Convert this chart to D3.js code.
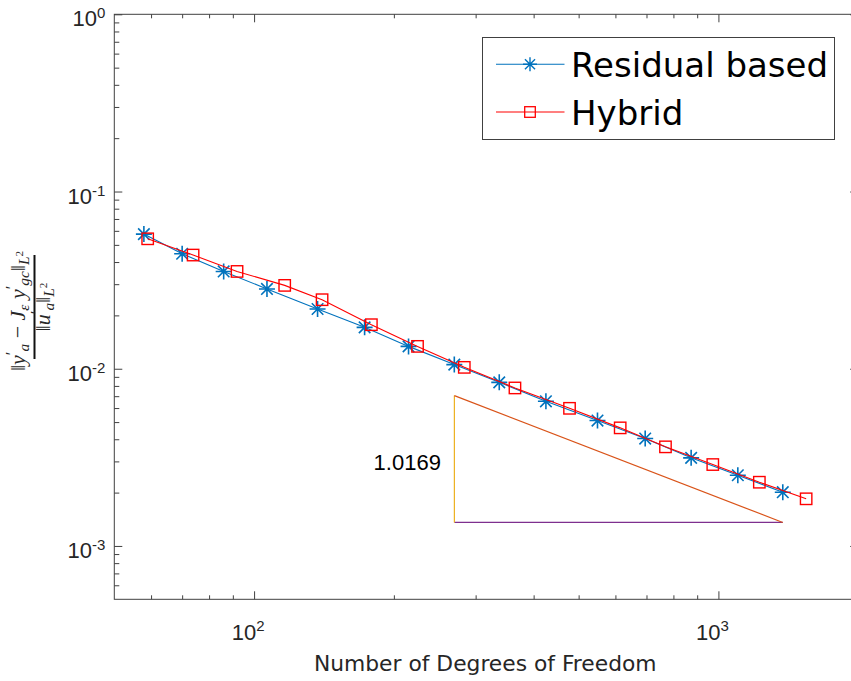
<!DOCTYPE html>
<html><head><meta charset="utf-8">
<script src="https://cdn.jsdelivr.net/npm/d3@7"></script>
<style>body{margin:0;background:#fff;overflow:hidden}</style>
</head><body><svg id="c" width="851" height="681"></svg>
<script>
// ---- data ----
const dofResidual = [57.9, 70.0, 86.0, 106.6, 137.0, 173.0, 215.1, 269.9, 337.3, 425.1, 549.0, 695.5, 873.5, 1101, 1376];
const errResidual = [0.0575, 0.04455, 0.0354, 0.0282, 0.02173, 0.01712, 0.01337, 0.01055, 0.00838, 0.00655, 0.0051, 0.004036, 0.003142, 0.002506, 0.002011];
const dofHybrid = [59.0, 73.9, 91.9, 116.4, 140.1, 178.9, 224.9, 283.6, 364.6, 477.9, 614.4, 769.1, 972.5, 1225, 1545];
const errHybrid = [0.0541, 0.0438, 0.0354, 0.02953, 0.02452, 0.01772, 0.01337, 0.01018, 0.00779, 0.005979, 0.004638, 0.003624, 0.00288, 0.002289, 0.001845];
const seriesNames = ["Residual based", "Hybrid"];
const xTickValues = [100, 1000];
const xTickExps = ["2", "3"];
const yTickValues = [1, 0.1, 0.01, 0.001];
const yTickExps = ["0", "-1", "-2", "-3"];
const triangleX = [270, 1376];
const triangleY = [0.001357, 0.007054];
const slopeLabel = "1.0169";
const xLabel = "Number of Degrees of Freedom";

// ---- layout ----
const svg = d3.select("#c");
const L = 114.3, R = 858.2, T = 14.3, B = 599.3;
const x = d3.scaleLog().domain([50, 2000]).range([L, R]);
const y = d3.scaleLog().domain([5e-4, 1]).range([B, T]);
const axisColor = "#404040", textColor = "#262626";
const blue = "#0072BD", red = "#FF0000";

const xMinor = [];
[10, 100, 1000].forEach(d => { for (let k = 2; k <= 9; k++) { const v = d * k; if (v > 50 && v < 2000) xMinor.push(v); } });
const yMinor = [];
[1e-4, 1e-3, 1e-2, 1e-1].forEach(d => { for (let k = 2; k <= 9; k++) { const v = d * k; if (v > 5e-4 && v < 1) yMinor.push(v); } });

function styleAxis(g) {
  g.select(".domain").remove();
  g.selectAll("line").attr("stroke", axisColor).attr("stroke-width", 1);
  g.selectAll("text").remove();
}
svg.append("g").attr("transform", `translate(0,${B})`).call(d3.axisBottom(x).tickValues(xTickValues).tickSize(-8).tickFormat("")).call(styleAxis);
svg.append("g").attr("transform", `translate(0,${B})`).call(d3.axisBottom(x).tickValues(xMinor).tickSize(-4).tickFormat("")).call(styleAxis);
svg.append("g").attr("transform", `translate(0,${T})`).call(d3.axisTop(x).tickValues(xTickValues).tickSize(-8).tickFormat("")).call(styleAxis);
svg.append("g").attr("transform", `translate(0,${T})`).call(d3.axisTop(x).tickValues(xMinor).tickSize(-4).tickFormat("")).call(styleAxis);
svg.append("g").attr("transform", `translate(${L},0)`).call(d3.axisLeft(y).tickValues(yTickValues).tickSize(-8).tickFormat("")).call(styleAxis);
svg.append("g").attr("transform", `translate(${L},0)`).call(d3.axisLeft(y).tickValues(yMinor).tickSize(-5).tickFormat("")).call(styleAxis);
svg.append("g").attr("transform", `translate(${R},0)`).call(d3.axisRight(y).tickValues(yTickValues).tickSize(-8).tickFormat("")).call(styleAxis);
svg.append("g").attr("transform", `translate(${R},0)`).call(d3.axisRight(y).tickValues(yMinor).tickSize(-5).tickFormat("")).call(styleAxis);
svg.append("rect").attr("x", L).attr("y", T).attr("width", R - L).attr("height", B - T)
  .attr("fill", "none").attr("stroke", axisColor).attr("stroke-width", 1);

// tick labels
const tickFont = "'Liberation Sans', Arial, sans-serif";
xTickValues.forEach((v, i) => {
  const t = svg.append("text").attr("x", x(v) - 6).attr("y", B + 41).attr("text-anchor", "middle")
    .attr("font-family", tickFont).attr("font-size", 22).attr("fill", textColor);
  t.append("tspan").text("10");
  t.append("tspan").attr("dy", -9).attr("font-size", 15).text(xTickExps[i]);
});
yTickValues.forEach((v, i) => {
  const t = svg.append("text").attr("x", L - 9).attr("y", y(v) + 12).attr("text-anchor", "end")
    .attr("font-family", tickFont).attr("font-size", 22).attr("fill", textColor);
  t.append("tspan").text("10");
  t.append("tspan").attr("dy", -8).attr("font-size", 15).text(yTickExps[i]);
});

// x label
svg.append("text").attr("x", (L + R) / 2 - 1).attr("y", 671).attr("text-anchor", "middle")
  .attr("font-family", "'DejaVu Sans', sans-serif").attr("font-size", 21.8).attr("fill", textColor).text(xLabel);

// y label (fraction)
const yl = svg.append("g").attr("transform", "translate(34.5,307) rotate(-90)")
  .attr("font-family", "'Liberation Serif', 'DejaVu Serif', serif").attr("fill", textColor);
yl.append("line").attr("x1", -52).attr("x2", 52).attr("y1", 0).attr("y2", 0).attr("stroke", "#111").attr("stroke-width", 2);
function mathText(parent, xx, yy, parts, size) {
  const t = parent.append("text").attr("x", xx).attr("y", yy).attr("text-anchor", "middle").attr("font-size", size);
  let shift = 0;
  parts.forEach(([s, kind]) => {
    let target = 0, fs = size, it = true;
    if (kind === "sub") { target = size * 0.2; fs = size * 0.7; }
    else if (kind === "sup") { target = -size * 0.35; fs = size * 0.75; it = false; }
    else if (kind === "subsup") { target = -size * 0.1; fs = size * 0.5; it = false; }
    else if (kind === "up") { it = false; }
    t.append("tspan").attr("dy", target - shift).attr("font-size", fs)
      .attr("font-style", it ? "italic" : "normal").text(s);
    shift = target;
  });
  return t;
}
mathText(yl, -4, -9.5, [["\u2016", "up"], ["y", ""], ["\u2032", "sup"], ["a", "sub"], [" \u2212 ", "up"], ["J", ""], ["\u03B5", "sub"], [" y", ""], ["\u2032", "sup"], ["gc", "sub"], ["\u2016", "up"], ["L", "sub"], ["2", "subsup"]], 22);
mathText(yl, 0, 15, [["\u2016", "up"], ["u", ""], ["\u2032", "sup"], ["a", "sub"], ["\u2016", "up"], ["L", "sub"], ["2", "subsup"]], 22);

// slope triangle
const tx0 = x(triangleX[0]), tx1 = x(triangleX[1]), ty0 = y(triangleY[0]), ty1 = y(triangleY[1]);
svg.append("line").attr("x1", tx0).attr("y1", ty0).attr("x2", tx1).attr("y2", ty0).attr("stroke", "#7E2F8E").attr("stroke-width", 1.2);
svg.append("line").attr("x1", tx0).attr("y1", ty0).attr("x2", tx0).attr("y2", ty1).attr("stroke", "#EDB120").attr("stroke-width", 1.2);
svg.append("line").attr("x1", tx0).attr("y1", ty1).attr("x2", tx1).attr("y2", ty0).attr("stroke", "#D95319").attr("stroke-width", 1.2);
svg.append("text").attr("x", tx0 - 13.5).attr("y", 469.5).attr("text-anchor", "end")
  .attr("font-family", tickFont).attr("font-size", 22).attr("fill", "#000").text(slopeLabel);

// series
const line = d3.line().x(d => x(d[0])).y(d => y(d[1]));
const resPts = dofResidual.map((d, i) => [d, errResidual[i]]);
const hybPts = dofHybrid.map((d, i) => [d, errHybrid[i]]);
function starPath(cx, cy, r) {
  const d = r * 0.72;
  return `M${cx - r},${cy}L${cx + r},${cy}M${cx},${cy - r}L${cx},${cy + r}M${cx - d},${cy - d}L${cx + d},${cy + d}M${cx - d},${cy + d}L${cx + d},${cy - d}`;
}
svg.append("path").datum(resPts).attr("d", line).attr("fill", "none").attr("stroke", blue).attr("stroke-width", 1.1);
svg.append("g").selectAll("path").data(resPts).join("path")
  .attr("d", d => starPath(x(d[0]), y(d[1]), 8)).attr("stroke", blue).attr("stroke-width", 1.6).attr("fill", "none");
svg.append("path").datum(hybPts).attr("d", line).attr("fill", "none").attr("stroke", red).attr("stroke-width", 1.1);
svg.append("g").selectAll("rect").data(hybPts).join("rect")
  .attr("x", d => x(d[0]) - 5.7).attr("y", d => y(d[1]) - 5.7).attr("width", 11.4).attr("height", 11.4)
  .attr("fill", "none").attr("stroke", red).attr("stroke-width", 1.4);

// legend
const lg = svg.append("g");
lg.append("rect").attr("x", 482.5).attr("y", 37.5).attr("width", 352).attr("height", 102)
  .attr("fill", "#fff").attr("stroke", axisColor).attr("stroke-width", 1);
const rows = [64.3, 112];
[blue, red].forEach((c, i) => {
  lg.append("line").attr("x1", 496).attr("x2", 564.5).attr("y1", rows[i]).attr("y2", rows[i]).attr("stroke", c).attr("stroke-width", 1.1);
  if (i === 0) lg.append("path").attr("d", starPath(530, rows[i], 7)).attr("stroke", c).attr("stroke-width", 1.4);
  else lg.append("rect").attr("x", 530 - 5.3).attr("y", rows[i] - 5.3).attr("width", 10.6).attr("height", 10.6).attr("fill", "none").attr("stroke", c).attr("stroke-width", 1.3);
  lg.append("text").attr("x", 571).attr("y", rows[i] + 12.5).attr("font-family", "'DejaVu Sans', sans-serif")
    .attr("font-size", 34).attr("fill", "#000").text(seriesNames[i]);
});
</script></body></html>
